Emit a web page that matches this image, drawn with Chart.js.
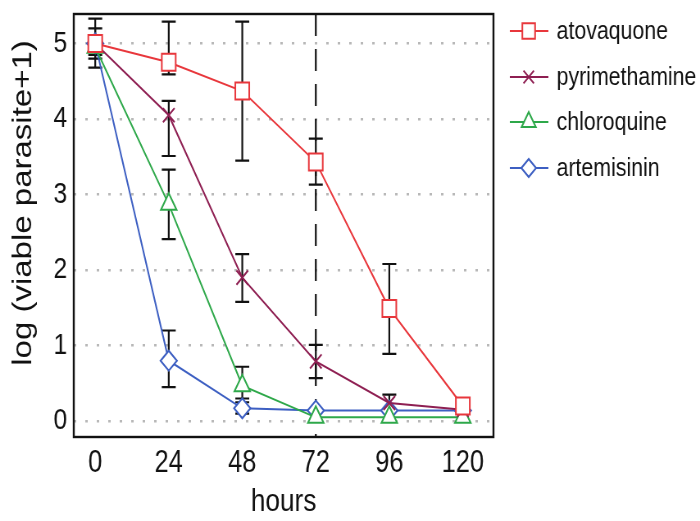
<!DOCTYPE html>
<html>
<head>
<meta charset="utf-8">
<script src="https://cdn.jsdelivr.net/npm/chart.js@4/dist/chart.umd.min.js"></script>
<style>
    html, body { margin: 0; padding: 0; background: #fff; overflow: hidden; }
    #frame { width: 700px; height: 521px; overflow: hidden; }
    /* the figure is horizontally compressed, so draw it wide and squeeze it */
    #wrap { width: 854px; height: 521px; position: relative; transform: scaleX(0.8197); transform-origin: 0 0; }
</style>
</head>
<body>
<div id="frame"><div id="wrap"><canvas id="killChart"></canvas></div></div>
<script>
// data
const hours = [0, 24, 48, 72, 96, 120];
const yTicks = [0, 1, 2, 3, 4, 5];

const atovaquone   = [5.00, 4.75, 4.37, 3.43, 1.49, 0.20];
const atovaquoneLo = [4.68, 4.59, 3.45, 3.13, 0.89, 0.14];
const atovaquoneHi = [5.33, 5.29, 5.29, 3.74, 2.08, 0.25];

const pyrimethamine   = [5.00, 4.05, 1.90, 0.79, 0.24, 0.15];
const pyrimethamineLo = [4.80, 3.51, 1.58, 0.57, 0.15, 0.10];
const pyrimethamineHi = [5.20, 4.24, 2.21, 1.01, 0.35, 0.20];

const chloroquine   = [4.95, 2.87, 0.47, 0.05, 0.05, 0.05];
const chloroquineLo = [4.85, 2.41, 0.30, 0.03, 0.03, 0.03];
const chloroquineHi = [5.05, 3.33, 0.72, 0.07, 0.07, 0.07];

const artemisinin   = [5.00, 0.80, 0.17, 0.14, 0.14, 0.14];
const artemisininLo = [4.90, 0.45, 0.10, 0.12, 0.12, 0.12];
const artemisininHi = [5.10, 1.20, 0.25, 0.16, 0.16, 0.16];

const markerLine = 72;

const FONT = "'Liberation Sans', Arial, sans-serif";

function makeSet(label, values, lo, hi, color, style, radius) {
    return {
        label: label,
        data: hours.map((h, i) => ({ x: h, y: values[i] })),
        errLo: lo,
        errHi: hi,
        borderColor: color,
        backgroundColor: '#fff',
        borderWidth: 2,
        pointStyle: style,
        pointRadius: radius,
        pointBorderWidth: 2,
        pointBackgroundColor: '#fff',
        pointBorderColor: color,
        tension: 0
    };
}

const datasets = [
    makeSet('atovaquone', atovaquone, atovaquoneLo, atovaquoneHi, '#e8373c', 'rect', 12),
    makeSet('pyrimethamine', pyrimethamine, pyrimethamineLo, pyrimethamineHi, '#8e1f52', 'crossRot', 10),
    makeSet('chloroquine', chloroquine, chloroquineLo, chloroquineHi, '#2ea84a', 'triangle', 11),
    makeSet('artemisinin', artemisinin, artemisininLo, artemisininHi, '#3d5fc2', 'rectRot', 10)
];

// error bars + dashed 72h line, under the markers
const underlay = {
    id: 'underlay',
    beforeDatasetsDraw(chart) {
        const { ctx, chartArea, scales: { x, y } } = chart;
        ctx.save();
        ctx.strokeStyle = '#111';
        ctx.lineWidth = 2.2;
        ctx.setLineDash([22, 13]);
        const lx = x.getPixelForValue(markerLine);
        ctx.beginPath();
        ctx.moveTo(lx, chartArea.top);
        ctx.lineTo(lx, chartArea.bottom);
        ctx.stroke();
        ctx.setLineDash([]);
        chart.data.datasets.forEach(ds => {
            hours.forEach((h, i) => {
                const px = x.getPixelForValue(h);
                const top = y.getPixelForValue(ds.errHi[i]);
                const bot = y.getPixelForValue(ds.errLo[i]);
                if (bot - top < 4) return;
                ctx.beginPath();
                ctx.moveTo(px, top); ctx.lineTo(px, bot);
                ctx.moveTo(px - 8.5, top); ctx.lineTo(px + 8.5, top);
                ctx.moveTo(px - 8.5, bot); ctx.lineTo(px + 8.5, bot);
                ctx.stroke();
            });
        });
        ctx.restore();
    }
};

// frame, y title and legend
const overlay = {
    id: 'overlay',
    afterDraw(chart) {
        const { ctx, chartArea } = chart;
        ctx.save();
        ctx.strokeStyle = '#111';
        ctx.lineWidth = 2.4;
        ctx.strokeRect(chartArea.left, chartArea.top, chartArea.right - chartArea.left, chartArea.bottom - chartArea.top);

        ctx.fillStyle = '#111';
        ctx.font = '33px ' + FONT;
        ctx.textAlign = 'center';
        ctx.textBaseline = 'middle';
        ctx.translate(29, 203);
        ctx.rotate(-Math.PI / 2);
        ctx.fillText('log (viable parasite+1)', 0, 0);
        ctx.restore();

        const rows = [31, 77, 122, 168];
        chart.data.datasets.forEach((ds, i) => {
            const cy = rows[i];
            ctx.save();
            ctx.strokeStyle = ds.borderColor;
            ctx.lineWidth = 2;
            ctx.beginPath();
            ctx.moveTo(622, cy); ctx.lineTo(669, cy);
            ctx.stroke();
            ctx.fillStyle = '#fff';
            Chart.helpers.drawPoint(ctx, { pointStyle: ds.pointStyle, radius: ds.pointRadius - 1, borderWidth: 2, rotation: 0 }, 645, cy);
            ctx.fillStyle = '#111';
            ctx.font = '26px ' + FONT;
            ctx.textAlign = 'left';
            ctx.textBaseline = 'middle';
            ctx.fillText(ds.label, 679, cy + 1);
            ctx.restore();
        });
    }
};

new Chart(document.getElementById('killChart'), {
    type: 'line',
    data: { datasets: datasets },
    options: {
        responsive: true,
        maintainAspectRatio: false,
        animation: false,
        layout: { padding: { left: 0, right: 252, top: 11, bottom: 0 } },
        plugins: {
            legend: { display: false },
            tooltip: { enabled: false }
        },
        scales: {
            x: {
                type: 'linear',
                min: -7,
                max: 130,
                afterBuildTicks: scale => { scale.ticks = hours.map(v => ({ value: v })); },
                afterFit: scale => {
                    scale.height = 84;
                    scale.paddingLeft = 0;
                    scale.paddingRight = 0;
                },
                grid: { display: false, drawTicks: false },
                border: { display: false },
                ticks: {
                    padding: 8,
                    color: '#111',
                    font: { family: FONT, size: 31 }
                },
                title: {
                    display: true,
                    text: 'hours',
                    color: '#111',
                    padding: { top: 0, bottom: 0 },
                    font: { family: FONT, size: 32 }
                }
            },
            y: {
                type: 'linear',
                min: -0.21,
                max: 5.39,
                afterBuildTicks: scale => { scale.ticks = yTicks.map(v => ({ value: v })); },
                afterFit: scale => {
                    scale.width = 90;
                    scale.paddingTop = 0;
                    scale.paddingBottom = 0;
                },
                grid: {
                    drawTicks: false,
                    color: '#b8b8b8',
                    lineWidth: 2.5
                },
                border: { display: false, dash: [3, 11] },
                ticks: {
                    padding: 8,
                    color: '#111',
                    font: { family: FONT, size: 30 }
                }
            }
        }
    },
    plugins: [underlay, overlay]
});
</script>
</body>
</html>
